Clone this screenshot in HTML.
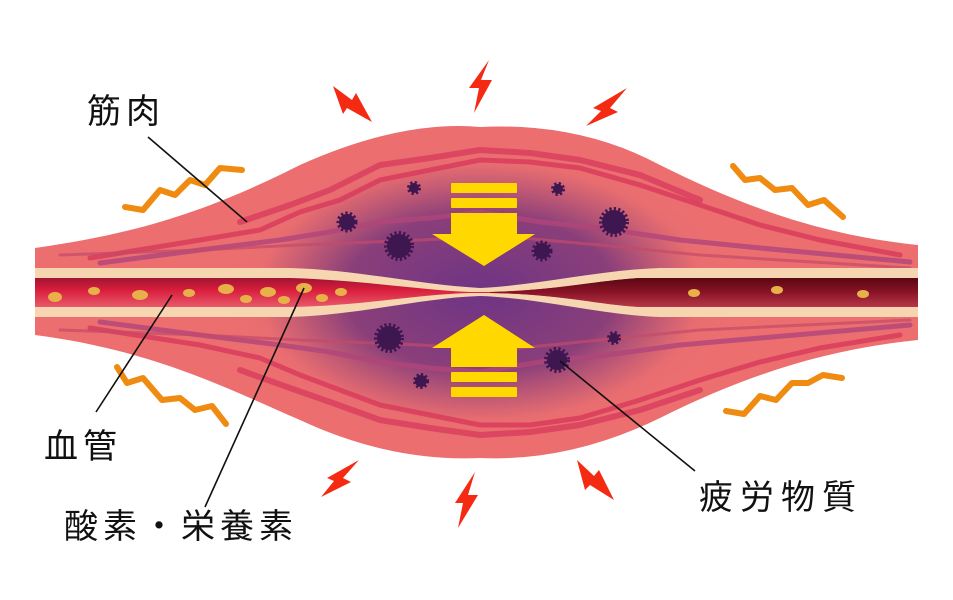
<!DOCTYPE html>
<html><head><meta charset="utf-8"><style>
html,body{margin:0;padding:0;background:#fff;}
svg{display:block}
text{font-family:"Liberation Sans","Noto Sans CJK JP",sans-serif;fill:#111;font-size:34px;letter-spacing:5px;}
</style></head><body>
<svg width="953" height="600" viewBox="0 0 953 600" xmlns="http://www.w3.org/2000/svg">
<defs>
<radialGradient id="pg" cx="480" cy="292" r="270" gradientUnits="userSpaceOnUse" gradientTransform="translate(480 292) scale(1 0.58) translate(-480 -292)">
<stop offset="0" stop-color="#6e3484"/><stop offset="0.5" stop-color="#8a3f7a"/><stop offset="0.82" stop-color="#e86d70" stop-opacity="0.9"/><stop offset="1" stop-color="#ec7070" stop-opacity="0"/>
</radialGradient>
<linearGradient id="vr" x1="0" y1="278" x2="0" y2="307" gradientUnits="userSpaceOnUse"><stop offset="0" stop-color="#a01533"/><stop offset="0.4" stop-color="#d81c3c"/><stop offset="1" stop-color="#e85a6a"/></linearGradient>
<linearGradient id="vd" x1="0" y1="278" x2="0" y2="307" gradientUnits="userSpaceOnUse"><stop offset="0" stop-color="#5a0714"/><stop offset="0.5" stop-color="#8a1426"/><stop offset="1" stop-color="#b5384a"/></linearGradient>
</defs>
<path d="M35,248 C150,232 220,205 300,165 Q400,120 480,127 Q580,122 660,165 C740,205 820,235 918,245 L918,340 C820,350 740,378 660,418 Q570,462 480,458 Q390,462 300,420 C220,385 150,350 35,335 Z" fill="#ec6e6f"/>
<path d="M35,248 C150,232 220,205 300,165 Q400,120 480,127 Q580,122 660,165 C740,205 820,235 918,245 L918,340 C820,350 740,378 660,418 Q570,462 480,458 Q390,462 300,420 C220,385 150,350 35,335 Z" fill="url(#pg)"/>
<g fill="none" stroke-linecap="round" stroke-linejoin="round">
<path d="M90,258 L200,240 L260,230 L300,212 L340,200 L380,180 L430,170 L480,160 L530,162 L580,168 L640,185 L700,205 L760,225 L820,240 L900,255" stroke="#d83c5c" stroke-width="5" opacity="0.85"/>
<path d="M240,222 L290,205 L330,190 L380,165 L430,158 L480,150 L530,153 L580,160 L640,175 L700,200" stroke="#d83c5c" stroke-width="6" opacity="0.8"/>
<path d="M100,263 L200,250 L280,240 L330,232 L380,222 L430,218 L480,212 L540,222 L600,228 L680,240 L760,248 L910,262" stroke="#b0457a" stroke-width="5" opacity="0.8"/>
<path d="M60,255 L200,250 L300,245 L420,240 L500,236 L600,245 L700,255 L910,268" stroke="#c34a6a" stroke-width="3" opacity="0.7"/>
<path d="M90,328 L200,345 L260,358 L300,375 L340,390 L380,405 L430,415 L480,425 L530,425 L580,418 L640,400 L700,380 L760,362 L820,348 L900,335" stroke="#d83c5c" stroke-width="5" opacity="0.85"/>
<path d="M240,370 L290,388 L330,402 L380,420 L430,428 L480,435 L530,432 L580,425 L640,410 L700,390" stroke="#d83c5c" stroke-width="6" opacity="0.8"/>
<path d="M100,322 L200,335 L280,345 L330,352 L380,362 L430,368 L480,372 L540,362 L600,356 L680,345 L760,338 L910,325" stroke="#b0457a" stroke-width="5" opacity="0.8"/>
<path d="M60,330 L200,335 L300,340 L420,345 L500,350 L600,340 L700,330 L910,320" stroke="#c34a6a" stroke-width="3" opacity="0.7"/>
</g>
<path d="M35,268 L290,268 C360,270 420,285 480,288 C540,285 600,270 660,268 L918,268 L918,317 L660,317 C600,315 540,298 480,296 C420,298 360,315 290,317 L35,317 Z" fill="#f6d6b0"/>
<path d="M35,278 L290,278 C360,280 420,290 470,292 L490,292 C560,290 600,280 640,278 L918,278 L918,307 L640,307 C600,305 560,294 490,293 L470,293 C420,294 360,306 290,307 L35,307 Z" fill="url(#vr)"/>
<path d="M490,292 C560,290 600,280 640,278 L918,278 L918,307 L640,307 C600,305 560,294 490,293 Z" fill="url(#vd)"/>
<g fill="#e8b048">
<ellipse cx="55" cy="297" rx="7" ry="5"/><ellipse cx="94" cy="291" rx="6" ry="4"/><ellipse cx="140" cy="295" rx="8" ry="5"/><ellipse cx="189" cy="293" rx="6" ry="4"/><ellipse cx="226" cy="289" rx="8" ry="5"/><ellipse cx="246" cy="299" rx="6" ry="4"/><ellipse cx="268" cy="292" rx="8" ry="5"/><ellipse cx="284" cy="300" rx="6" ry="4"/><ellipse cx="304" cy="288" rx="8" ry="5"/><ellipse cx="322" cy="298" rx="6" ry="4"/><ellipse cx="341" cy="292" rx="6" ry="4"/>
<ellipse cx="694" cy="293" rx="6" ry="4"/><ellipse cx="777" cy="290" rx="6" ry="4"/><ellipse cx="863" cy="294" rx="6" ry="4"/>
</g>
<g fill="#3e1650" stroke="#3e1650" stroke-dasharray="2 2">
<circle cx="414" cy="188" r="5" stroke-width="4"/>
<circle cx="558" cy="189" r="5" stroke-width="4"/>
<circle cx="347" cy="222" r="8" stroke-width="5"/>
<circle cx="614" cy="222" r="12" stroke-width="6"/>
<circle cx="399" cy="246" r="12" stroke-width="6"/>
<circle cx="542" cy="251" r="8" stroke-width="5"/>
<circle cx="389" cy="338" r="12" stroke-width="6"/>
<circle cx="614" cy="338" r="5" stroke-width="4"/>
<circle cx="557" cy="360" r="10" stroke-width="6"/>
<circle cx="421" cy="381" r="6" stroke-width="4"/>
</g>
<g fill="#ffd800">
<rect x="451" y="183" width="66" height="10" rx="1"/><rect x="451" y="198" width="66" height="10" rx="1"/>
<path d="M451,213 L517,213 L517,234 L535,234 L484,266 L432,234 L451,234 Z"/>
<path d="M451,367 L517,367 L517,348 L535,348 L484,315 L432,348 L451,348 Z"/>
<rect x="451" y="372" width="66" height="10" rx="1"/><rect x="451" y="387" width="66" height="10" rx="1"/>
</g>
<g fill="#f52a12">
<path d="M333,86 L352,100 L356,93 L372,122 L347,108 L343,114 Z"/>
<path d="M489,60 L481,80 L492,80 L474,113 L479,88 L469,88 Z"/>
<path d="M627,88 L610,108 L618,112 L586,126 L601,111 L593,108 Z"/>
<path d="M359,460 L343,478 L351,482 L321,497 L334,481 L327,478 Z"/>
<path d="M475,472 L468,495 L478,495 L458,528 L463,503 L455,503 Z"/>
<path d="M577,460 L594,476 L599,470 L614,500 L590,485 L585,490 Z"/>
</g>
<g fill="none" stroke="#ef8b10" stroke-width="6" stroke-linecap="round" stroke-linejoin="round">
<path d="M125,207 L143,210 L160,190 L175,195 L190,180 L205,185 L220,168 L242,170"/>
<path d="M117,367 L127,383 L143,378 L162,400 L180,398 L195,410 L212,406 L226,424"/>
<path d="M733,166 L745,180 L760,178 L775,190 L792,188 L808,205 L824,200 L843,217"/>
<path d="M726,411 L744,414 L760,396 L776,400 L792,383 L808,383 L823,375 L842,378"/>
</g>
<g stroke="#111" stroke-width="1.6">
<line x1="148" y1="137" x2="247" y2="222"/>
<line x1="96" y1="412" x2="172" y2="295"/>
<line x1="205" y1="507" x2="304" y2="288"/>
<line x1="695" y1="471" x2="560" y2="361"/>
</g>
<text x="87" y="123">筋肉</text>
<text x="44" y="458">血管</text>
<text x="64" y="538">酸素・栄養素</text>
<text x="699" y="509" style="letter-spacing:7px">疲労物質</text>
</svg>
</body></html>
